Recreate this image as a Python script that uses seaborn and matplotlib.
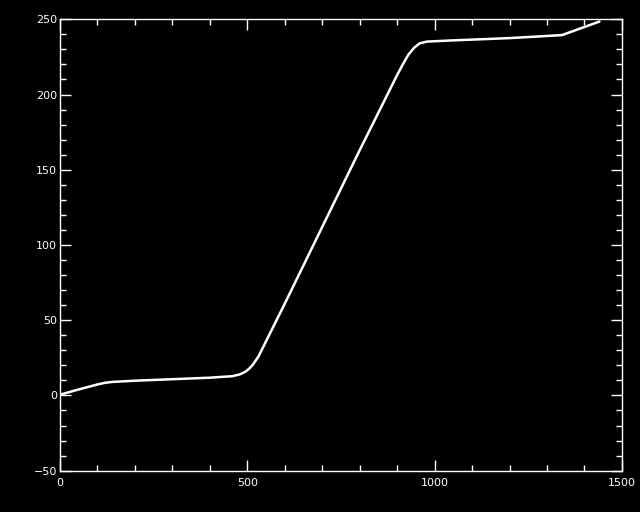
import numpy as np
import pandas as pd
import matplotlib
matplotlib.use("Agg")
import matplotlib.pyplot as plt
import seaborn as sns
from matplotlib.ticker import MultipleLocator

# values
x_vals = [0, 50, 100, 120, 140, 200, 300, 400, 460, 480, 495, 505, 515,
          530, 600, 700, 800, 900, 915, 930, 945, 960, 980, 1050, 1200,
          1340, 1440]
y_vals = [0.5, 4, 7.3, 8.4, 9.0, 9.8, 10.8, 11.8, 12.8, 14.0, 15.8, 17.8,
          20.5, 26, 61, 112, 163, 213, 220, 226.5, 231, 234, 235.2, 236,
          237.5, 239.5, 248.5]

df = pd.DataFrame({"x": x_vals, "y": y_vals})

sns.set_style("ticks")
plt.rcParams.update({
    "figure.facecolor": "black",
    "axes.facecolor": "black",
    "axes.edgecolor": "white",
    "axes.linewidth": 1.0,
    "xtick.color": "white",
    "ytick.color": "white",
    "text.color": "white",
})
plt.rcParams["font.family"] = ["DejaVu Sans"]

fig = plt.figure(figsize=(6.4, 5.12), dpi=100)
ax = fig.add_axes([0.09375, 0.0807, 0.878, 0.8816])

sns.lineplot(data=df, x="x", y="y", ax=ax, color="white", linewidth=1.8)

ax.set_xlim(0, 1500)
ax.set_ylim(-50, 250)
ax.xaxis.set_major_locator(MultipleLocator(500))
ax.xaxis.set_minor_locator(MultipleLocator(100))
ax.yaxis.set_major_locator(MultipleLocator(50))
ax.yaxis.set_minor_locator(MultipleLocator(10))
ax.tick_params(which="both", direction="in", top=True, right=True,
               colors="white", labelsize=8, width=1.0)
ax.tick_params(which="major", length=8)
ax.tick_params(which="minor", length=4.3)
ax.tick_params(axis="x", pad=5)
ax.tick_params(axis="y", pad=2)
ax.set_xlabel("")
ax.set_ylabel("")
for s in ax.spines.values():
    s.set_color("white")
    s.set_visible(True)

fig.savefig("out.png", dpi=100, facecolor="black")
